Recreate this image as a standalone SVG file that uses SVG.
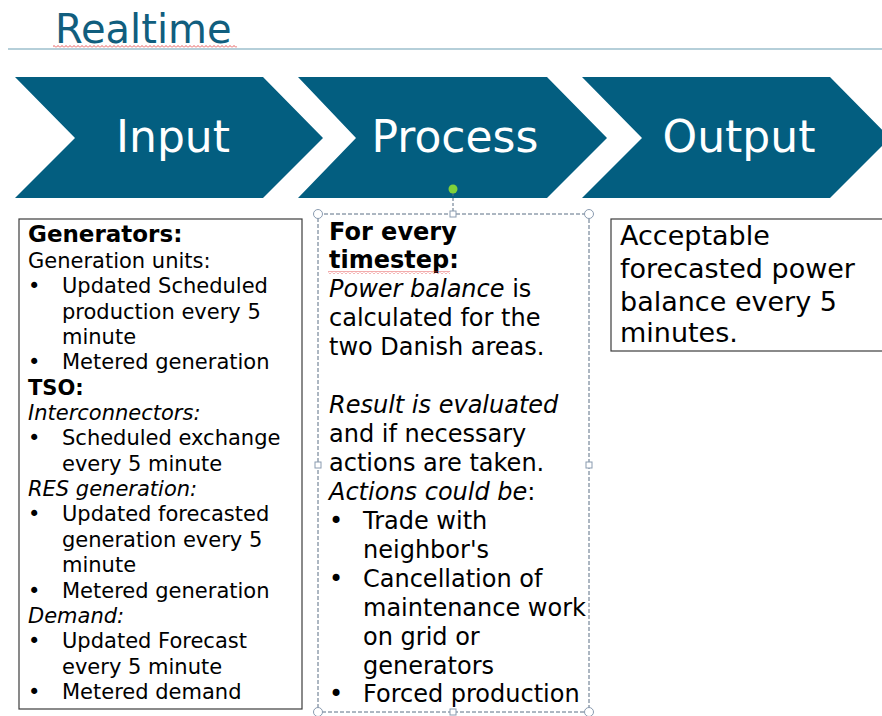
<svg xmlns="http://www.w3.org/2000/svg" width="882" height="716" viewBox="0 0 882 716">
<style>
.t{font-family:"DejaVu Sans",Verdana,sans-serif;fill:#000}
.l{font-size:21px}
.lb{font-size:23px;font-weight:bold}
.m{font-size:24px}
.mb{font-size:24px;font-weight:bold}
.r{font-size:27px}
.i{font-style:italic}
.chev{fill:#035e80}
.ct{font-family:"DejaVu Sans",Verdana,sans-serif;font-size:44px;fill:#fff;text-anchor:middle}
.box{fill:#fff;stroke:#3c3c3c;stroke-width:1.2}
.h{fill:#fff;stroke:#8a9bb0;stroke-width:1}
</style>
<defs>
<pattern id="squig" x="0" y="0" width="4" height="3" patternUnits="userSpaceOnUse">
<polyline points="0,2.5 2,0.5 4,2.5" fill="none" stroke="#e03030" stroke-width="0.8"/>
</pattern>
</defs>
<rect width="882" height="716" fill="#fff"/>
<g id="title">
<text x="55" y="43" style="font-family:'DejaVu Sans',Verdana,sans-serif;font-size:40px;fill:#115e7e">Realtime</text>
<rect x="53" y="45" width="184" height="3" fill="url(#squig)"/>
<line x1="8" y1="49" x2="882" y2="49" stroke="#9dbfcc" stroke-width="1.5"/>
</g>
<g id="chevron-input">
<polygon class="chev" points="15,77 263,77 323,138 263,198 15,198 75,138"/>
<text class="ct" x="173" y="152">Input</text>
</g>
<g id="chevron-process">
<polygon class="chev" points="298,77 547,77 607,138 547,198 298,198 356,138"/>
<text class="ct" x="455" y="152">Process</text>
</g>
<g id="chevron-output">
<polygon class="chev" points="582,77 830,77 890,138 830,198 582,198 642,138"/>
<text class="ct" x="739" y="152">Output</text>
</g>
<g id="connectors">
<line x1="453" y1="193" x2="453" y2="211" stroke="#5a6e84" stroke-width="1" stroke-dasharray="3,2"/>
</g>
<g id="input-box">
<rect class="box" x="19" y="219" width="283" height="490"/>
<g class="t">
<text class="lb" x="28" y="242">Generators:</text>
<text class="l" x="28" y="268">Generation units:</text>
<text class="l" x="28" y="293">•</text><text class="l" x="62" y="293">Updated Scheduled</text>
<text class="l" x="62" y="319">production every 5</text>
<text class="l" x="62" y="344">minute</text>
<text class="l" x="28" y="369">•</text><text class="l" x="62" y="369">Metered generation</text>
<text class="l" x="28" y="395" font-weight="bold">TSO:</text>
<text class="l i" x="28" y="420">Interconnectors:</text>
<text class="l" x="28" y="445">•</text><text class="l" x="62" y="445">Scheduled exchange</text>
<text class="l" x="62" y="471">every 5 minute</text>
<text class="l i" x="28" y="496">RES generation:</text>
<text class="l" x="28" y="521">•</text><text class="l" x="62" y="521">Updated forecasted</text>
<text class="l" x="62" y="547">generation every 5</text>
<text class="l" x="62" y="572">minute</text>
<text class="l" x="28" y="598">•</text><text class="l" x="62" y="598">Metered generation</text>
<text class="l i" x="28" y="623">Demand:</text>
<text class="l" x="28" y="648">•</text><text class="l" x="62" y="648">Updated Forecast</text>
<text class="l" x="62" y="674">every 5 minute</text>
<text class="l" x="28" y="699">•</text><text class="l" x="62" y="699">Metered demand</text>
</g>
</g>
<g id="process-box">
<rect x="318" y="214" width="271" height="498" fill="#fff" stroke="#5a6e84" stroke-width="1" stroke-dasharray="4,2"/>
<circle class="h" cx="318" cy="214" r="4.5"/>
<circle class="h" cx="589" cy="214" r="4.5"/>
<circle class="h" cx="318" cy="712" r="4.5"/>
<circle class="h" cx="589" cy="712" r="4.5"/>
<rect class="h" x="450" y="211" width="6" height="6"/>
<rect class="h" x="315" y="462" width="6" height="6"/>
<rect class="h" x="586" y="462" width="6" height="6"/>
<rect class="h" x="450" y="709" width="6" height="6"/>
<circle cx="453" cy="189" r="4.5" fill="#7fd23a"/>
<g class="t">
<text class="mb" x="329" y="240">For every</text>
<text class="mb" x="329" y="268">timestep:</text>
<rect x="328" y="271" width="122" height="3" fill="url(#squig)"/>
<text class="m" x="329" y="297"><tspan class="i">Power balance</tspan> is</text>
<text class="m" x="329" y="326">calculated for the</text>
<text class="m" x="329" y="355">two Danish areas.</text>
<text class="m i" x="329" y="413">Result is evaluated</text>
<text class="m" x="329" y="442">and if necessary</text>
<text class="m" x="329" y="471">actions are taken.</text>
<text class="m" x="329" y="500"><tspan class="i">Actions could be</tspan>:</text>
<text class="m" x="329" y="529">•</text><text class="m" x="363" y="529">Trade with</text>
<text class="m" x="363" y="558">neighbor's</text>
<text class="m" x="329" y="587">•</text><text class="m" x="363" y="587">Cancellation of</text>
<text class="m" x="363" y="616">maintenance work</text>
<text class="m" x="363" y="645">on grid or</text>
<text class="m" x="363" y="674">generators</text>
<text class="m" x="329" y="702">•</text><text class="m" x="363" y="702">Forced production</text>
</g>
</g>
<g id="output-box">
<rect class="box" x="611" y="219" width="280" height="132"/>
<g class="t">
<text class="r" x="620" y="245">Acceptable</text>
<text class="r" x="620" y="278">forecasted power</text>
<text class="r" x="620" y="311">balance every 5</text>
<text class="r" x="620" y="342">minutes.</text>
</g>
</g>
</svg>
